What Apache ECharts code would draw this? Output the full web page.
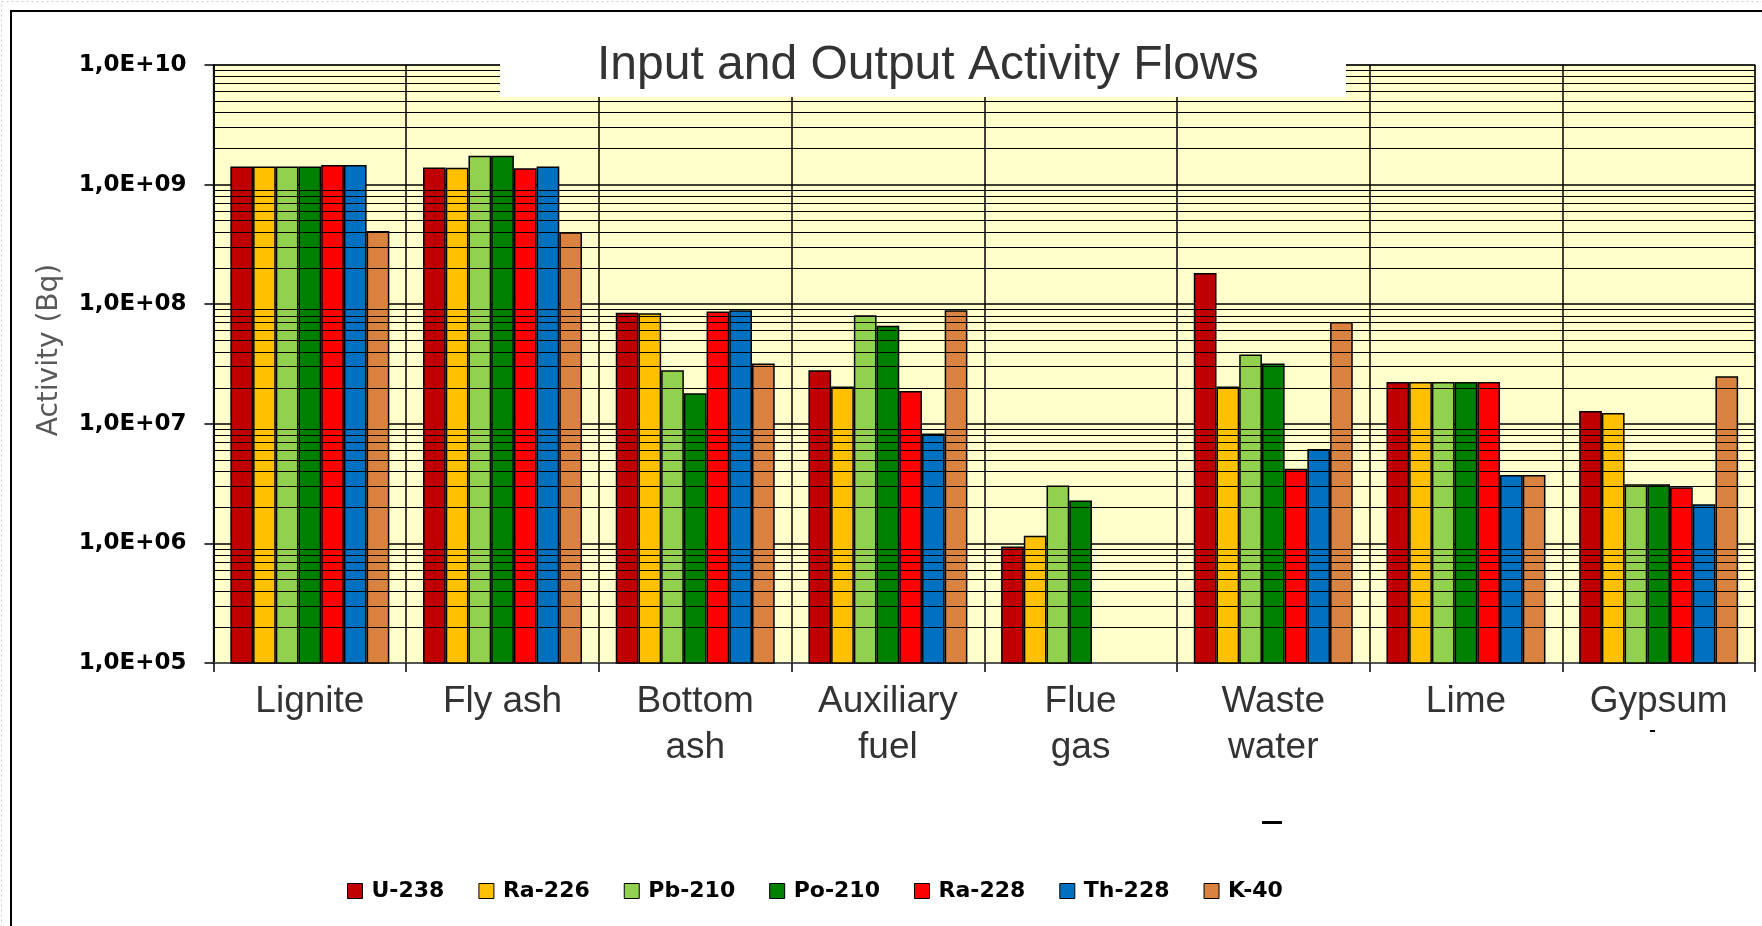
<!DOCTYPE html>
<html>
<head>
<meta charset="utf-8">
<script src="https://cdn.jsdelivr.net/npm/echarts@6/dist/echarts.min.js"></script>
<style>
html,body{margin:0;padding:0;background:#fff;}
#chart{width:1762px;height:926px;}
</style>
</head>
<body>
<div id="chart"></div>
<script>
// ---- data ----
const categories = ['Lignite', 'Fly ash', 'Bottom\nash', 'Auxiliary\nfuel', 'Flue\ngas', 'Waste\nwater', 'Lime', 'Gypsum'];
const seriesNames = ['U-238', 'Ra-226', 'Pb-210', 'Po-210', 'Ra-228', 'Th-228', 'K-40'];
const u238  = [1.42e9, 1.39e9, 8.5e7, 2.8e7, 9.4e5,  1.82e8, 2.24e7, 1.28e7];
const ra226 = [1.42e9, 1.38e9, 8.4e7, 2.05e7, 1.16e6, 2.05e7, 2.24e7, 1.23e7];
const pb210 = [1.42e9, 1.74e9, 2.8e7, 8.1e7, 3.05e6, 3.8e7,  2.24e7, 3.13e6];
const po210 = [1.42e9, 1.74e9, 1.8e7, 6.6e7, 2.28e6, 3.2e7,  2.24e7, 3.13e6];
const ra228 = [1.46e9, 1.37e9, 8.7e7, 1.88e7, null,  4.2e6,  2.24e7, 2.95e6];
const th228 = [1.46e9, 1.42e9, 8.9e7, 8.3e6, null,   6.15e6, 3.74e6, 2.13e6];
const k40   = [4.1e8,  4.0e8,  3.2e7, 8.9e7, null,   7.1e7,  3.74e6, 2.5e7];
const seriesValues = [u238, ra226, pb210, po210, ra228, th228, k40];
const colors = ['#C00000', '#FFC000', '#92D050', '#008000', '#FF0000', '#0070C0', '#DA8341'];
const yTickLabels = ['1,0E+05', '1,0E+06', '1,0E+07', '1,0E+08', '1,0E+09', '1,0E+10'];
const minorMultipliers = [2, 3, 4, 5, 6, 7, 8, 9];
const titleText = 'Input and Output Activity Flows';
const yAxisName = 'Activity (Bq)';

// minor gridline values (log-axis subdivisions 2..9 of each decade)
const minorGrid = [];
for (let e = 5; e < 10; e++) {
  minorMultipliers.forEach(m => minorGrid.push(m * Math.pow(10, e)));
}

const chart = echarts.init(document.getElementById('chart'), null, {renderer: 'canvas'});

const series = seriesNames.map((name, i) => ({
  name: name,
  type: 'bar',
  data: seriesValues[i],
  barGap: '0%',
  barCategoryGap: '17.5%',
  z: 3,
  itemStyle: {color: colors[i], borderColor: '#000', borderWidth: 1.5},
  emphasis: {disabled: true}
}));

series.push({
  name: '_grid',
  type: 'line',
  data: categories.map(() => null),
  showSymbol: false,
  silent: true,
  z: 1,
  markLine: {
    silent: true,
    symbol: ['none', 'none'],
    label: {show: false},
    lineStyle: {color: '#000', width: 1.2, type: 'solid'},
    emphasis: {disabled: true},
    animation: false,
    data: minorGrid.map(v => ({yAxis: v}))
  }
});

const option = {
  animation: false,
  backgroundColor: '#fff',
  title: {
    text: titleText,
    left: 592,
    top: 37,
    z: 100,
    textStyle: {fontFamily: 'Liberation Sans', fontSize: 48, fontWeight: 'normal', color: '#333'}
  },
  graphic: [
    {type: 'rect', z: 90, shape: {x: 500, y: 30, width: 846, height: 67}, style: {fill: '#fff'}},
    {type: 'rect', z: 90, shape: {x: 1.5, y: 1.5, width: 1800, height: 1000}, style: {fill: null, stroke: '#ccc', lineWidth: 1, lineDash: [2, 3]}},
    {type: 'rect', z: 90, shape: {x: 11, y: 11, width: 1800, height: 1000}, style: {fill: null, stroke: '#000', lineWidth: 2}},
    {type: 'rect', z: 90, shape: {x: 1262, y: 821, width: 20, height: 3}, style: {fill: '#000'}},
    {type: 'rect', z: 90, shape: {x: 1650, y: 730, width: 5, height: 2}, style: {fill: '#000'}}
  ],
  legend: {
    data: seriesNames,
    left: 342,
    top: 875,
    icon: 'rect',
    itemWidth: 15,
    itemHeight: 15,
    itemGap: 34,
    itemStyle: {borderColor: '#000', borderWidth: 1},
    textStyle: {fontFamily: 'DejaVu Sans', fontWeight: 'bold', fontSize: 22, color: '#000', padding: [0, 0, 0, 4]},
    selectedMode: false
  },
  grid: {
    left: 213.5,
    right: 7,
    top: 65,
    bottom: 263,
    show: true,
    backgroundColor: '#FFFFCC',
    borderColor: '#808080',
    borderWidth: 1.5
  },
  xAxis: {
    type: 'category',
    data: categories,
    axisLine: {show: true, lineStyle: {color: '#555', width: 2}},
    axisTick: {show: true, length: 9, lineStyle: {color: '#000', width: 1.5}},
    splitLine: {show: true, interval: 0, lineStyle: {color: '#000', width: 1.5}},
    axisLabel: {
      interval: 0,
      margin: 16,
      fontFamily: 'Liberation Sans',
      fontSize: 37,
      lineHeight: 46,
      color: '#333'
    }
  },
  yAxis: {
    type: 'log',
    logBase: 10,
    min: 1e5,
    max: 1e10,
    splitNumber: 5,
    name: yAxisName,
    nameLocation: 'middle',
    nameGap: 150,
    nameRotate: 90,
    nameTextStyle: {fontFamily: 'DejaVu Sans', fontSize: 28, color: '#595959', padding: [0, 0, 0, 28]},
    axisLine: {show: true, lineStyle: {color: '#000', width: 1.5}},
    axisTick: {show: true, length: 9, lineStyle: {color: '#000', width: 1.5}},
    splitLine: {show: true, lineStyle: {color: '#000', width: 1.5}},
    axisLabel: {
      margin: 27,
      fontFamily: 'DejaVu Sans',
      fontWeight: 'bold',
      fontSize: 23,
      color: '#000',
      formatter: v => yTickLabels[Math.round(Math.log10(v)) - 5]
    }
  },
  series: series
};

chart.setOption(option);
</script>
</body>
</html>
